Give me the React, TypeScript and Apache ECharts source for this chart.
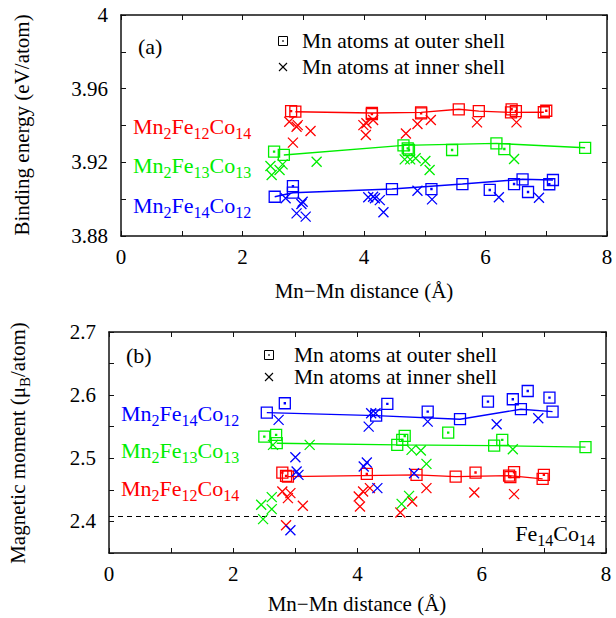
import React, { useEffect, useRef } from "react";
import * as echarts from "echarts";

// ---------- data ----------
const xTicks = [0, 1, 2, 3, 4, 5, 6, 7, 8];
const xLabels = [0, 2, 4, 6, 8];
const aYTicks = [3.88, 3.9, 3.92, 3.94, 3.96, 3.98, 4.0];
const aYLabels = [3.88, 3.92, 3.96, 4.0];
const bYTicks = [2.35, 2.4, 2.45, 2.5, 2.55, 2.6, 2.65, 2.7];
const bYLabels = [2.4, 2.5, 2.6, 2.7];

// Panel (a): binding energy
const aRedLine = [[2.87, 3.9475], [4.13, 3.9468], [4.94, 3.9471], [5.56, 3.9488], [5.89, 3.9478], [6.42, 3.9471], [6.96, 3.9472]];
const aRedOuter = [[2.8, 3.9478], [4.13, 3.9462], [4.94, 3.9466], [6.43, 3.9488], [6.5, 3.9478], [7.0, 3.948]];
const aRedInner = [[2.77, 3.942], [2.89, 3.9393], [2.91, 3.9402], [3.12, 3.937], [2.83, 3.9307], [3.99, 3.9402], [4.04, 3.9412], [4.03, 3.9348], [4.15, 3.943], [4.69, 3.9357], [4.88, 3.9408], [5.1, 3.943], [5.86, 3.9417], [6.51, 3.9417]];

const aGreenLine = [[2.68, 3.924], [4.65, 3.9292], [6.18, 3.9303], [7.64, 3.9279]];
const aGreenOuter = [[2.52, 3.9258], [4.72, 3.9276], [4.74, 3.9267], [5.45, 3.9267], [6.31, 3.9272]];
const aGreenInner = [[2.46, 3.918], [2.48, 3.9131], [2.61, 3.9158], [2.66, 3.9189], [3.22, 3.9203], [4.67, 3.9216], [4.76, 3.9216], [4.85, 3.9222], [5.01, 3.9207], [5.08, 3.9158], [6.47, 3.9218]];

const aBlueLine = [[2.53, 3.9013], [2.83, 3.9035], [4.46, 3.9055], [5.62, 3.9082], [6.61, 3.9108], [7.11, 3.9104]];
const aBlueOuter = [[2.83, 3.9071], [5.11, 3.9055], [6.07, 3.905], [6.47, 3.9082], [6.7, 3.9039], [7.05, 3.9081]];
const aBlueInner = [[2.71, 3.9005], [2.97, 3.8974], [2.99, 3.8986], [2.89, 3.8923], [3.04, 3.8905], [4.07, 3.901], [4.15, 3.9013], [4.18, 3.9005], [4.26, 3.8995], [4.32, 3.8929], [4.88, 3.9046], [5.12, 3.8999], [6.22, 3.901], [6.88, 3.9008]];

// Panel (b): magnetic moment
const bBlueLine = [[2.54, 2.5723], [4.3, 2.5675], [5.65, 2.5619], [6.63, 2.5777], [7.14, 2.5739]];
const bBlueOuter = [[2.83, 2.5872], [4.48, 2.5861], [5.13, 2.5739], [6.1, 2.5897], [6.5, 2.5935], [6.74, 2.6066], [7.09, 2.596]];
const bBlueInner = [[2.73, 2.5608], [3.0, 2.5017], [3.02, 2.479], [3.05, 2.4737], [4.22, 2.5714], [4.29, 2.5714], [4.18, 2.5502], [4.15, 2.4932], [4.1, 2.4869], [4.32, 2.4527], [4.91, 2.4764], [5.13, 2.5581], [6.24, 2.554], [6.91, 2.5634], [2.92, 2.386]];

const bGreenLine = [[2.7, 2.5239], [4.64, 2.5212], [6.2, 2.5201], [7.67, 2.5176]];
const bGreenOuter = [[2.5, 2.5343], [2.69, 2.537], [4.76, 2.5354], [4.72, 2.5291], [5.46, 2.5407], [6.33, 2.5291]];
const bGreenInner = [[2.64, 2.5212], [3.23, 2.5212], [2.45, 2.4263], [2.62, 2.4385], [2.62, 2.4195], [2.48, 2.4036], [4.87, 2.5133], [5.02, 2.5122], [6.5, 2.5144], [5.11, 2.4911], [4.83, 2.4405], [4.71, 2.4278]];

const bRedLine = [[2.88, 2.471], [4.95, 2.4737], [5.58, 2.471], [6.44, 2.4726], [6.98, 2.4674]];
const bRedOuter = [[2.79, 2.4774], [2.85, 2.4722], [4.15, 2.4753], [5.9, 2.4774], [6.52, 2.478], [6.46, 2.4701], [7.0, 2.4737]];
const bRedInner = [[2.79, 2.4473], [2.92, 2.4448], [2.88, 2.4369], [3.12, 2.4247], [4.02, 2.4394], [4.09, 2.4473], [4.2, 2.4527], [4.04, 2.4236], [4.88, 2.4315], [4.69, 2.4141], [5.11, 2.4527], [5.88, 2.4457], [6.52, 2.4432], [2.85, 2.394]];

const fe14co14 = 2.4078;
const refLineX = [0, 8];

// ---------- styling ----------
const FONT = "Liberation Serif";
const RED = "#ff0000";
const GREEN = "#00ee00";
const BLUE = "#0000ff";
const SQ_DOT = "path://M0 0H10V10H0ZM4.5 4.5H5.5V5.5H4.5Z";
const SQ = "path://M0 0H10V10H0Z";
const CROSS = "path://M0 0L10 10M10 0L0 10";

const fmt = (v: number) => String(Math.round(v * 100) / 100);

function xAxes(g: number) {
  const base = {
    type: "value",
    gridIndex: g,
    min: 0,
    max: 8,
    axisLine: { show: true, onZero: false, lineStyle: { color: "#111", width: 1.5 } },
    axisTick: { show: true, inside: true, length: 5, customValues: xTicks, lineStyle: { color: "#111", width: 1 } },
    splitLine: { show: false },
  };
  return [
    { ...base, position: "bottom", axisLabel: { show: true, customValues: xLabels, fontSize: 21, fontFamily: FONT, color: "#000", margin: 10, formatter: fmt } },
    { ...base, position: "top", axisLabel: { show: false } },
  ];
}
function yAxes(g: number, min: number, max: number, ticks: number[], labels: number[]) {
  const base = {
    type: "value",
    gridIndex: g,
    min,
    max,
    axisLine: { show: true, onZero: false, lineStyle: { color: "#111", width: 1.5 } },
    axisTick: { show: true, inside: true, length: 5, customValues: ticks, lineStyle: { color: "#111", width: 1 } },
    splitLine: { show: false },
  };
  return [
    { ...base, position: "left", axisLabel: { show: true, customValues: labels, fontSize: 21, fontFamily: FONT, color: "#000", margin: 13, formatter: fmt } },
    { ...base, position: "right", axisLabel: { show: false } },
  ];
}

function pts(d: number[][]) {
  return d.map((p) => [p[0], p[1]]);
}
function lineSeries(d: number[][], color: string, ax: number) {
  return {
    type: "line",
    xAxisIndex: ax,
    yAxisIndex: ax,
    data: pts(d),
    symbol: SQ,
    symbolSize: 11,
    showAllSymbol: true,
    lineStyle: { color, width: 1.4 },
    itemStyle: { color: "transparent", borderColor: color, borderWidth: 1.3 },
    z: 3,
    silent: true,
  };
}
function scatterSeries(d: number[][], color: string, ax: number, symbol: string, size: number) {
  return {
    type: "scatter",
    xAxisIndex: ax,
    yAxisIndex: ax,
    data: pts(d),
    symbol,
    symbolSize: size,
    itemStyle: { color: "transparent", borderColor: color, borderWidth: 1.3, opacity: 1 },
    z: 4,
    silent: true,
  };
}

function compoundText(x: number, y: number, a: string, b: string, c: string, color: string) {
  return {
    type: "text",
    x,
    y,
    style: {
      text: `{n|Mn}{s|${a}}{n|Fe}{s|${b}}{n|Co}{s|${c}}`,
      fill: color,
      fontFamily: FONT,
      align: "left",
      textAlign: "left",
      verticalAlign: "middle",
      textVerticalAlign: "middle",
      rich: {
        n: { fontSize: 22, fontFamily: FONT, fill: color, lineHeight: 30, verticalAlign: "middle" },
        s: { fontSize: 16, fontFamily: FONT, fill: color, lineHeight: 30, verticalAlign: "bottom" },
      },
    },
  };
}
function plainText(x: number, y: number, text: string, size = 20, align = "left", rotation = 0) {
  return {
    type: "text",
    x,
    y,
    rotation,
    style: {
      text,
      fill: "#000",
      fontSize: size,
      fontFamily: FONT,
      align,
      textAlign: align,
      verticalAlign: "middle",
      textVerticalAlign: "middle",
    },
  };
}
function legendSquare(cx: number, cy: number) {
  return [
    { type: "rect", shape: { x: cx - 4.5, y: cy - 4.5, width: 9, height: 9 }, style: { fill: "none", stroke: "#000", lineWidth: 1 } },
    { type: "rect", shape: { x: cx - 0.75, y: cy - 0.75, width: 1.5, height: 1.5 }, style: { fill: "#000" } },
  ];
}
function legendCross(cx: number, cy: number) {
  const h = 4;
  return [
    { type: "line", shape: { x1: cx - h, y1: cy - h, x2: cx + h, y2: cy + h }, style: { stroke: "#000", lineWidth: 1.1 } },
    { type: "line", shape: { x1: cx + h, y1: cy - h, x2: cx - h, y2: cy + h }, style: { stroke: "#000", lineWidth: 1.1 } },
  ];
}

export default function App() {
  const ref = useRef<HTMLDivElement>(null);
  useEffect(() => {
    if (!ref.current) return;
    const chart = echarts.init(ref.current, null, { renderer: "svg" });
    const option: any = {
      animation: false,
      backgroundColor: "#fff",
      textStyle: { fontFamily: FONT },
      grid: [
        { left: 121, top: 15, width: 486, height: 221 },
        { left: 109, top: 332, width: 497, height: 221 },
      ],
      xAxis: [...xAxes(0), ...xAxes(1)],
      yAxis: [...yAxes(0, 3.88, 4.0, aYTicks, aYLabels), ...yAxes(1, 2.35, 2.7, bYTicks, bYLabels)],
      series: [
        // panel a
        lineSeries(aRedLine, RED, 0),
        lineSeries(aGreenLine, GREEN, 0),
        lineSeries(aBlueLine, BLUE, 0),
        scatterSeries(aRedOuter, RED, 0, SQ_DOT, 11),
        scatterSeries(aGreenOuter, GREEN, 0, SQ_DOT, 11),
        scatterSeries(aBlueOuter, BLUE, 0, SQ_DOT, 11),
        scatterSeries(aRedInner, RED, 0, CROSS, 10),
        scatterSeries(aGreenInner, GREEN, 0, CROSS, 10),
        scatterSeries(aBlueInner, BLUE, 0, CROSS, 10),
        // panel b (axis index 2)
        lineSeries(bRedLine, RED, 2),
        lineSeries(bGreenLine, GREEN, 2),
        lineSeries(bBlueLine, BLUE, 2),
        scatterSeries(bRedOuter, RED, 2, SQ_DOT, 11),
        scatterSeries(bGreenOuter, GREEN, 2, SQ_DOT, 11),
        scatterSeries(bBlueOuter, BLUE, 2, SQ_DOT, 11),
        scatterSeries(bRedInner, RED, 2, CROSS, 10),
        scatterSeries(bGreenInner, GREEN, 2, CROSS, 10),
        scatterSeries(bBlueInner, BLUE, 2, CROSS, 10),
        {
          type: "line",
          xAxisIndex: 2,
          yAxisIndex: 2,
          data: refLineX.map((x) => [x, fe14co14]),
          symbol: "none",
          lineStyle: { color: "#000", width: 1, type: [5, 4] },
          z: 2,
          silent: true,
        },
      ],
      graphic: [
        // y-axis titles
        plainText(22, 125, "Binding energy (eV/atom)", 21, "center", Math.PI / 2),
        {
          type: "text",
          x: 18,
          y: 443,
          rotation: Math.PI / 2,
          style: {
            text: "{n|Magnetic moment (μ}{s|B}{n|/atom)}",
            fill: "#000",
            fontFamily: FONT,
            align: "center",
            textAlign: "center",
            verticalAlign: "middle",
            textVerticalAlign: "middle",
            rich: {
              n: { fontSize: 21, fontFamily: FONT, fill: "#000", lineHeight: 28, verticalAlign: "middle" },
              s: { fontSize: 15, fontFamily: FONT, fill: "#000", lineHeight: 28, verticalAlign: "bottom" },
            },
          },
        },
        // x-axis titles
        plainText(364, 291, "Mn−Mn distance (Å)", 21, "center"),
        plainText(357, 604, "Mn−Mn distance (Å)", 21, "center"),
        // panel labels
        plainText(138, 46, "(a)", 22, "left"),
        plainText(126, 355, "(b)", 22, "left"),
        // legends
        ...legendSquare(283, 41),
        plainText(302, 41, "Mn atoms at outer shell", 21.5, "left"),
        ...legendCross(283, 67),
        plainText(302, 67, "Mn atoms at inner shell", 21.5, "left"),
        ...legendSquare(269, 355),
        plainText(294, 355, "Mn atoms at outer shell", 21.5, "left"),
        ...legendCross(269, 377),
        plainText(294, 377, "Mn atoms at inner shell", 21.5, "left"),
        // compound labels
        compoundText(133, 126, "2", "12", "14", RED),
        compoundText(133, 165, "2", "13", "13", GREEN),
        compoundText(133, 205, "2", "14", "12", BLUE),
        compoundText(121, 413, "2", "14", "12", BLUE),
        compoundText(121, 450, "2", "13", "13", GREEN),
        compoundText(121, 488, "2", "12", "14", RED),
        {
          type: "text",
          x: 595,
          y: 533,
          style: {
            text: "{n|Fe}{s|14}{n|Co}{s|14}",
            fill: "#000",
            fontFamily: FONT,
            align: "right",
            textAlign: "right",
            verticalAlign: "middle",
            textVerticalAlign: "middle",
            rich: {
              n: { fontSize: 22, fontFamily: FONT, fill: "#000", lineHeight: 30, verticalAlign: "middle" },
              s: { fontSize: 16, fontFamily: FONT, fill: "#000", lineHeight: 30, verticalAlign: "bottom" },
            },
          },
        },
      ],
    };
    chart.setOption(option);
    return () => chart.dispose();
  }, []);
  return <div ref={ref} style={{ position: "fixed", left: 0, top: 0, width: 616, height: 618 }} />;
}
